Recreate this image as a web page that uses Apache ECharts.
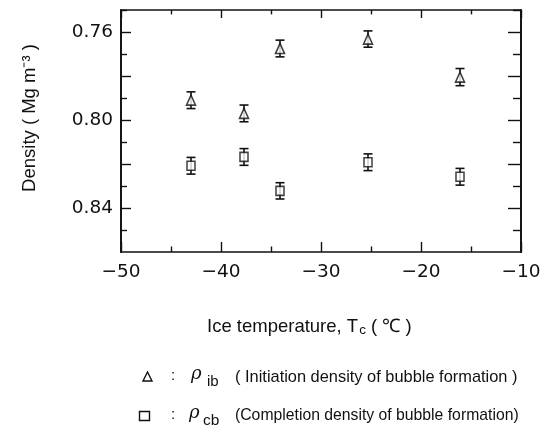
<!DOCTYPE html>
<html>
<head>
<meta charset="utf-8">
<script src="https://cdn.jsdelivr.net/npm/echarts@6/dist/echarts.min.js"></script>
<style>
  html, body { margin: 0; padding: 0; background: #fff; }
  #chart { width: 544px; height: 436px; }
</style>
</head>
<body>
<div id="chart"></div>
<script>
// Ice temperature (°C) for each sample
const temps = [-43, -37.7, -34.1, -25.3, -16.1];
// Initiation density of bubble formation, rho_ib (Mg m^-3)
const rhoIb = [0.791, 0.797, 0.7675, 0.7632, 0.7805];
// Completion density of bubble formation, rho_cb (Mg m^-3)
const rhoCb = [0.8208, 0.8168, 0.8322, 0.8192, 0.8258];
// Error bar half-widths
const errIb = [0.0038, 0.0038, 0.0038, 0.0037, 0.0039];
const errCb = [0.0038, 0.0038, 0.0037, 0.0038, 0.0038];
// Axis tick values
const yLabels = [0.76, 0.80, 0.84];
const yMajor = [0.76, 0.78, 0.80, 0.82, 0.84];
const yMinor = [0.75, 0.77, 0.79, 0.81, 0.83, 0.85];

const FONT = 'Liberation Sans, Arial, sans-serif';
const NUMFONT = 'DejaVu Sans, sans-serif';
const ink = '#111';

function pairs(xs, ys) { return xs.map((x, i) => [x, ys[i]]); }
function bars(xs, ys, es) { return xs.map((x, i) => [x, ys[i], es[i]]); }

function errorBar(params, api) {
  const x = api.value(0), y = api.value(1), e = api.value(2);
  const p1 = api.coord([x, y - e]);
  const p2 = api.coord([x, y + e]);
  const w = 4.5;
  const st = { stroke: ink, lineWidth: 1.6 };
  return {
    type: 'group',
    children: [
      { type: 'line', shape: { x1: p1[0], y1: p1[1], x2: p2[0], y2: p2[1] }, style: st },
      { type: 'line', shape: { x1: p1[0] - w, y1: p1[1], x2: p1[0] + w, y2: p1[1] }, style: st },
      { type: 'line', shape: { x1: p2[0] - w, y1: p2[1], x2: p2[0] + w, y2: p2[1] }, style: st }
    ]
  };
}

function yAxis(pos, ticks, len, labels) {
  return {
    type: 'value', inverse: true, min: 0.75, max: 0.86, position: pos,
    axisLine: { show: true, lineStyle: { color: ink, width: 1.7 } },
    splitLine: { show: false },
    axisTick: { show: true, inside: true, length: len, customValues: ticks,
                lineStyle: { color: ink, width: 1.4 } },
    axisLabel: labels ? {
      show: true, customValues: yLabels, margin: 8,
      formatter: v => v.toFixed(2), color: ink, fontSize: 18.5, fontFamily: NUMFONT
    } : { show: false }
  };
}

function xAxis(pos, labels, len) {
  return {
    type: 'value', min: -50, max: -10, interval: 10, position: pos,
    axisLine: { show: true, onZero: false, lineStyle: { color: ink, width: 1.7 } },
    splitLine: { show: false },
    axisTick: { show: true, inside: true, length: len, lineStyle: { color: ink, width: 1.4 } },
    minorTick: { show: true, splitNumber: 2, length: len * 0.55, lineStyle: { color: ink, width: 1.4 } },
    axisLabel: labels ? {
      show: true, margin: 11, color: ink, fontSize: 18.5, fontFamily: NUMFONT,
      formatter: v => (v < 0 ? '\u2212' + Math.abs(v) : String(v))
    } : { show: false }
  };
}

const legendText = (t, x, y, size, extra) =>
  Object.assign({ type: 'text', x: x, y: y,
    style: Object.assign({ text: t, fontSize: size, fontFamily: FONT, fill: ink,
                           align: 'left', verticalAlign: 'middle' }, extra || {}) });

const chart = echarts.init(document.getElementById('chart'), null, { renderer: 'canvas' });
chart.setOption({
  animation: false,
  backgroundColor: '#fff',
  grid: { left: 121, right: 23, top: 10, bottom: 184 },
  xAxis: [xAxis('bottom', true, 10), xAxis('top', false, 8)],
  yAxis: [
    yAxis('left', yMajor, 10, true),
    yAxis('left', yMinor, 6, false),
    yAxis('right', yMajor, 13, false),
    yAxis('right', yMinor, 8, false)
  ],
  series: [
    { type: 'custom', xAxisIndex: 0, yAxisIndex: 0, renderItem: errorBar,
      data: bars(temps, rhoIb, errIb), z: 2 },
    { type: 'custom', xAxisIndex: 0, yAxisIndex: 0, renderItem: errorBar,
      data: bars(temps, rhoCb, errCb), z: 2 },
    { name: 'rho_ib', type: 'scatter', xAxisIndex: 0, yAxisIndex: 0,
      symbol: 'triangle', symbolSize: [9, 10],
      itemStyle: { color: '#fff', borderColor: ink, borderWidth: 1.6 },
      data: pairs(temps, rhoIb), z: 3 },
    { name: 'rho_cb', type: 'scatter', xAxisIndex: 0, yAxisIndex: 0,
      symbol: 'rect', symbolSize: [8, 9],
      itemStyle: { color: '#fff', borderColor: ink, borderWidth: 1.6 },
      data: pairs(temps, rhoCb), z: 3 }
  ],
  graphic: [
    { type: 'text', left: 207, top: 317,
      style: {
        text: '{a|Ice temperature, T}{s|c}{a| ( \u2103 )}',
        rich: {
          a: { fontSize: 18.5, fontFamily: FONT, fill: ink },
          s: { fontSize: 13.5, fontFamily: FONT, fill: ink, padding: [8, 0, 0, 1] }
        }
      } },
    { type: 'text', x: 30, y: 118, rotation: Math.PI / 2,
      style: {
        text: 'Density ( Mg m\u207B\u00B3 )',
        fontSize: 18.5, fontFamily: FONT, fill: ink,
        align: 'center', verticalAlign: 'middle'
      } },
    // legend: initiation density
    { type: 'polygon', shape: { points: [[147.5, 372], [143, 381], [152, 381]] },
      style: { fill: '#fff', stroke: ink, lineWidth: 1.4 } },
    legendText(':', 171, 376, 15),
    legendText('\u03C1', 191, 374, 18, { fontFamily: 'DejaVu Serif', fontStyle: 'italic' }),
    legendText('ib', 207, 382, 15),
    legendText('( Initiation density of bubble formation )', 235, 377, 16.4),
    // legend: completion density
    { type: 'rect', shape: { x: 139.5, y: 411.5, width: 10, height: 9 },
      style: { fill: '#fff', stroke: ink, lineWidth: 1.4 } },
    legendText(':', 171, 415, 15),
    legendText('\u03C1', 189, 413, 18, { fontFamily: 'DejaVu Serif', fontStyle: 'italic' }),
    legendText('cb', 203, 421, 15.5),
    legendText('(Completion density of bubble formation)', 235, 416, 15.75)
  ]
});
</script>
</body>
</html>
